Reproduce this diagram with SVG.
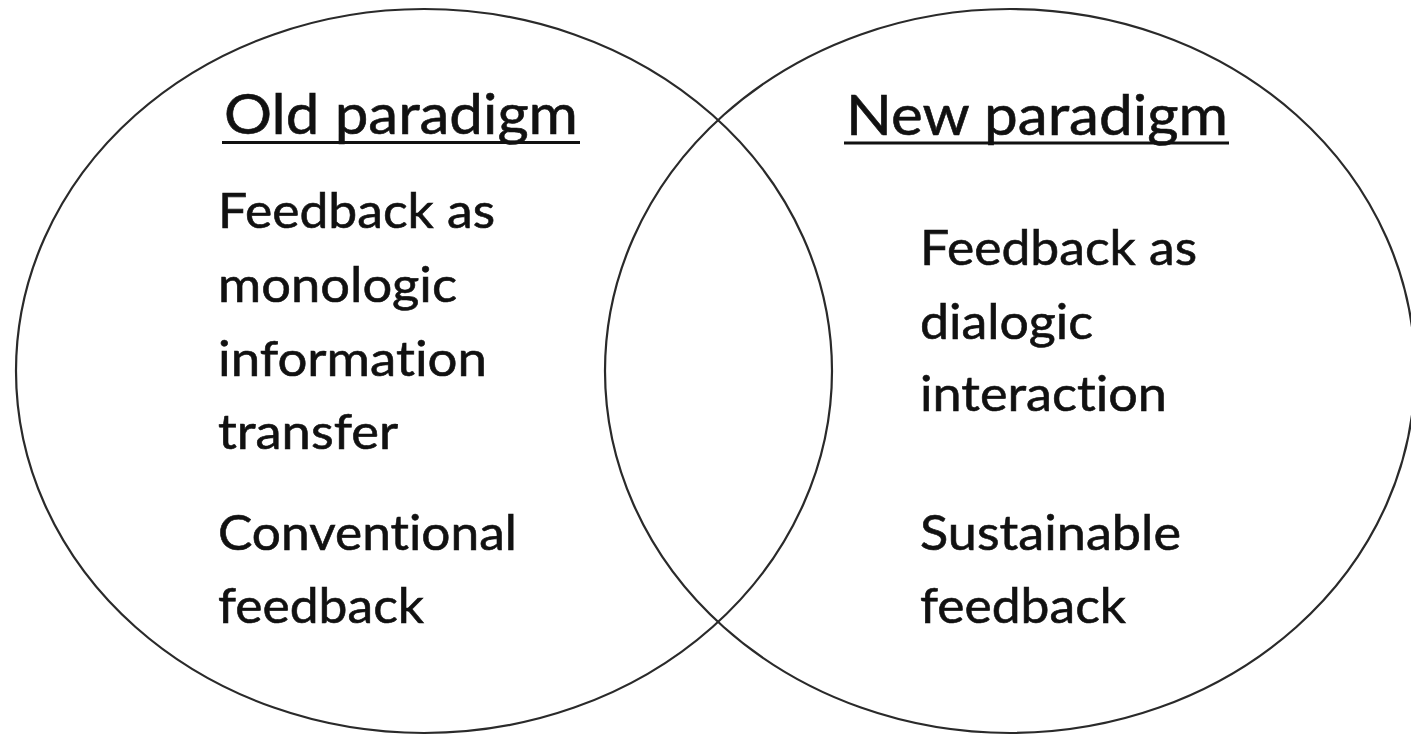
<svg xmlns="http://www.w3.org/2000/svg" width="1411" height="735" viewBox="0 0 1411 735">
  <style>
    .circle { fill: none; stroke: #2a2a2a; stroke-width: 2.2; }
    .title, .body { font-family: Lato, "Open Sans", "Liberation Sans", sans-serif; fill: #111; stroke: #111; stroke-width: 0.6; font-variant-ligatures: none; font-feature-settings: "liga" 0, "clig" 0; }
    .title { font-size: 56px; }
    .body { font-size: 49px; }
    .ul { stroke: #111; stroke-width: 3; }
  </style>
  <rect width="1411" height="735" fill="#fff"/>
  <g id="old-paradigm">
    <ellipse class="circle" cx="424" cy="371" rx="408" ry="362"/>
    <text class="title" x="224" y="134" textLength="354" lengthAdjust="spacingAndGlyphs">Old paradigm</text>
    <line class="ul" x1="222" y1="142.5" x2="580" y2="142.5"/>
    <text class="body" x="218" y="228" textLength="277" lengthAdjust="spacingAndGlyphs">Feedback as</text>
    <text class="body" x="218" y="302" textLength="239" lengthAdjust="spacingAndGlyphs">monologic</text>
    <text class="body" x="218" y="376" textLength="269" lengthAdjust="spacingAndGlyphs">information</text>
    <text class="body" x="218" y="449" textLength="180" lengthAdjust="spacingAndGlyphs">transfer</text>
    <text class="body" x="218" y="550" textLength="299" lengthAdjust="spacingAndGlyphs">Conventional</text>
    <text class="body" x="218" y="623" textLength="206" lengthAdjust="spacingAndGlyphs">feedback</text>
  </g>
  <g id="new-paradigm">
    <ellipse class="circle" cx="1010" cy="371" rx="405" ry="362"/>
    <text class="title" x="846" y="135" textLength="382" lengthAdjust="spacingAndGlyphs">New paradigm</text>
    <line class="ul" x1="844" y1="143" x2="1229" y2="143"/>
    <text class="body" x="920" y="265" textLength="277" lengthAdjust="spacingAndGlyphs">Feedback as</text>
    <text class="body" x="920" y="339" textLength="173" lengthAdjust="spacingAndGlyphs">dialogic</text>
    <text class="body" x="920" y="411" textLength="247" lengthAdjust="spacingAndGlyphs">interaction</text>
    <text class="body" x="920" y="550" textLength="261" lengthAdjust="spacingAndGlyphs">Sustainable</text>
    <text class="body" x="920" y="623" textLength="206" lengthAdjust="spacingAndGlyphs">feedback</text>
  </g>
  <g id="connectors"/>
</svg>
